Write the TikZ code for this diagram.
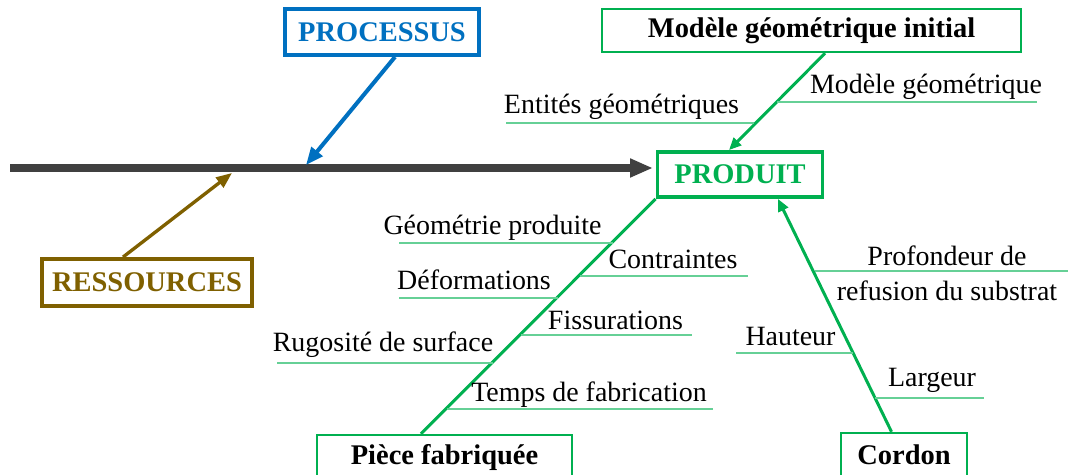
\documentclass[tikz,border=0pt]{standalone}
\usepackage{fontspec}
\setmainfont{Liberation Serif}
\usetikzlibrary{arrows.meta}

\definecolor{vert}{HTML}{00B050}
\definecolor{bleu}{HTML}{0070C0}
\definecolor{brun}{HTML}{7F6000}
\definecolor{gris}{HTML}{404040}

\begin{document}
\begin{tikzpicture}
[x=0.02cm,y=-0.02cm,
  font=\fontsize{15.9}{19.8}\selectfont,
  boxDecorate/.style={shape=rectangle,inner sep=0pt,font=\fontsize{16.2}{19.8}\selectfont\bfseries},%
  labelDecorate/.style={inner sep=0pt,anchor=base},%
  branchDecorate/.style={-,draw=vert!60,line width=0.8pt},%
  boneDecorate/.style={draw=vert,line width=1.7pt}]
\useasboundingbox (0,0) rectangle (1074,475);
\clip (0,0) rectangle (1074,475);
%% boxes
\node (processus) at (382,32) [boxDecorate,draw=bleu,text=bleu,line width=2.2pt,minimum width=3.88cm,minimum height=0.92cm] {PROCESSUS};
\node (ressources) at (147,282.5) [boxDecorate,draw=brun,text=brun,line width=2.2pt,minimum width=4.2cm,minimum height=0.94cm] {RESSOURCES};
\node (produit) at (740,174.5) [boxDecorate,draw=vert,text=vert,line width=2.2pt,minimum width=3.3cm,minimum height=0.9cm] {PRODUIT};
\node (modele) at (811.5,30.5) [boxDecorate,draw=vert,line width=1.4pt,minimum width=8.38cm,minimum height=0.86cm] {Modèle géométrique initial};
\node (piece) at (444.5,458) [boxDecorate,draw=vert,line width=1.4pt,minimum width=5.1cm,minimum height=0.92cm] {Pièce fabriquée};
\node (cordon) at (904,455) [boxDecorate,draw=vert,line width=1.4pt,minimum width=2.52cm,minimum height=0.88cm] {Cordon};
%% spine and main arrows
\coordinate (queue) at (10,168);
\coordinate (pp) at (306,165);
\coordinate (rr) at (232,173);
\draw[draw=gris,line width=4.5pt,-{Triangle[length=13pt,width=10pt]},shorten >=1.5pt] (queue) -- ([yshift=0.13cm]produit.west);
\draw[draw=bleu,line width=2.3pt,-{Triangle[length=10pt,width=8pt]}] ([xshift=0.26cm]processus.south) -- (pp);
\draw[draw=brun,line width=1.9pt,-{Triangle[length=9pt,width=7pt]}] ([xshift=-0.48cm]ressources.north) -- (rr);
\draw[boneDecorate,-{Triangle[length=7pt,width=6pt]}] ([xshift=0.27cm]modele.south) -- ([xshift=-0.22cm]produit.north);
\draw[boneDecorate] ([xshift=-0.47cm]piece.north) -- (produit.south west);
\draw[boneDecorate,-{Triangle[length=7pt,width=6pt]}] ([xshift=-0.25cm]cordon.north) -- ([xshift=0.76cm]produit.south);
%% branch ends
\foreach \name/\x/\y in {e1/506/123, e2/754/123, m1/777/102, m2/1037/102,
  g1/399/243, g2/613/243, c1/580/276, c2/748/276, d1/399/298, d2/558/298,
  f1/521/335, f2/692/335, r1/277/363, r2/493/363, t1/447/409, t2/713/409,
  p1/815/271, p2/1068/271, h1/736/353, h2/853/353, l1/875/398, l2/984/398}
{
  \coordinate (\name) at (\x,\y);
}
%% branches
\foreach \startnode/\endnode in {e1/e2, m1/m2, g1/g2, c1/c2, d1/d2, f1/f2, r1/r2, t1/t2, p1/p2, h1/h2, l1/l2}
{
  \draw[branchDecorate] (\startnode) -- (\endnode);
}
%% labels
\node (entites) at (621.5,114) [labelDecorate] {Entités géométriques};
\node (modgeo) at (926,94) [labelDecorate] {Modèle géométrique};
\node (geoprod) at (492.5,235) [labelDecorate] {Géométrie produite};
\node (contraintes) at (673,269) [labelDecorate] {Contraintes};
\node (deformations) at (474,290) [labelDecorate] {Déformations};
\node (fissurations) at (615.5,330) [labelDecorate] {Fissurations};
\node (rugosite) at (383,352) [labelDecorate] {Rugosité de surface};
\node (temps) at (589,402) [labelDecorate] {Temps de fabrication};
\node (profondeur) at (947,273) [inner sep=0pt,align=center] {Profondeur de\\refusion du substrat};
\node (hauteur) at (790.5,346) [labelDecorate] {Hauteur};
\node (largeur) at (932,387) [labelDecorate] {Largeur};
\end{tikzpicture}
\end{document}
